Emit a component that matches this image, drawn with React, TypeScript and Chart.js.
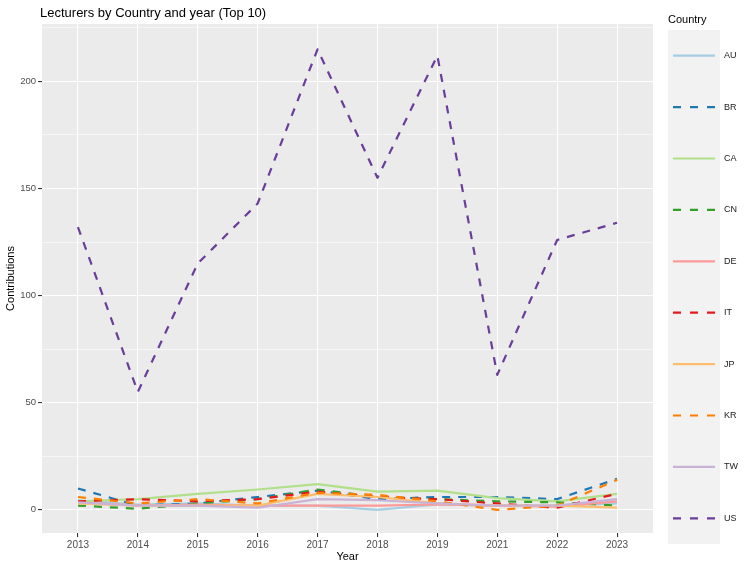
import { useEffect, useRef } from "react";
import { Chart, registerables } from "chart.js";

Chart.register(...registerables);

// ---- data ----
const years = ["2013", "2014", "2015", "2016", "2017", "2018", "2019", "2021", "2022", "2023"];
const countries = ["AU", "BR", "CA", "CN", "DE", "IT", "JP", "KR", "TW", "US"];

const auValues = [4.5, 2.5, 3, 2, 2, 0, 2.5, 2, 2, 3];
const brValues = [10, 2, 3, 6, 9, 5, 6, 6, 5, 14.5];
const caValues = [4, 5, 7.5, 9.5, 12, 8.5, 9, 5.5, 4, 7.5];
const cnValues = [2, 0.5, 3, 5, 9.5, 6, 5, 4, 3.5, 2];
const deValues = [3.5, 2, 2.5, 2, 2, 2, 2.5, 2, 1.5, 4];
const itValues = [4, 5, 4, 5, 8.5, 6, 5, 3, 1, 7.5];
const jpValues = [3, 2, 2, 2, 7.5, 6, 3, 2, 2, 1];
const krValues = [6, 3, 5, 3, 8, 7, 4, 0, 2, 14];
const twValues = [3.5, 2, 2, 1, 5, 4.5, 3, 2, 2, 5];
const usValues = [132, 55, 115, 143, 215, 155, 212, 63, 126, 134];

const seriesValues = [auValues, brValues, caValues, cnValues, deValues, itValues, jpValues, krValues, twValues, usValues];

const yMajorTicks = [0, 50, 100, 150, 200];
const yMinorTicks = [25, 75, 125, 175, 225];

const chartTitle = "Lecturers by Country and year (Top 10)";
const legendTitle = "Country";
const xTitle = "Year";
const yTitle = "Contributions";

// ---- styles ----
const seriesColors = ["#A6CEE3", "#1F78B4", "#B2DF8A", "#33A02C", "#FB9A99", "#E31A1C", "#FDBF6F", "#FF7F00", "#CAB2D6", "#6A3D9A"];
const seriesDashed = [false, true, false, true, false, true, false, true, false, true];

const FONT = "'Liberation Sans', Arial, sans-serif";
const PANEL_BG = "#EBEBEB";
const AXIS_TEXT = "#4D4D4D";

const panelPlugin = {
  id: "panelBackground",
  beforeDraw(chart: any) {
    const { ctx, chartArea } = chart;
    ctx.save();
    ctx.fillStyle = PANEL_BG;
    ctx.fillRect(chartArea.left, chartArea.top, chartArea.right - chartArea.left, chartArea.bottom - chartArea.top);
    ctx.restore();
  },
};

const titleLegendPlugin = {
  id: "titleLegend",
  afterDraw(chart: any) {
    const { ctx } = chart;
    ctx.save();
    ctx.textAlign = "left";
    ctx.textBaseline = "middle";
    ctx.fillStyle = "#000000";
    ctx.font = `13px ${FONT}`;
    ctx.fillText(chartTitle, 40, 13);

    ctx.font = `11px ${FONT}`;
    ctx.fillText(legendTitle, 668, 20);

    const boxX = 668;
    const boxY = 30;
    const boxW = 52;
    const keyH = 51.4;
    ctx.fillStyle = "#F2F2F2";
    ctx.fillRect(boxX, boxY, boxW, keyH * countries.length);

    countries.forEach((name, i) => {
      const cy = boxY + keyH * (i + 0.5);
      ctx.beginPath();
      ctx.strokeStyle = seriesColors[i];
      ctx.lineWidth = 2.2;
      ctx.lineCap = "butt";
      ctx.setLineDash(seriesDashed[i] ? [8, 9] : []);
      ctx.moveTo(boxX + 5, cy);
      ctx.lineTo(boxX + 47, cy);
      ctx.stroke();
      ctx.setLineDash([]);
      ctx.fillStyle = "#1A1A1A";
      ctx.font = `9px ${FONT}`;
      ctx.fillText(name, boxX + boxW + 4, cy);
    });
    ctx.restore();
  },
};

export default function App() {
  const canvasRef = useRef<HTMLCanvasElement | null>(null);

  useEffect(() => {
    if (!canvasRef.current) return;

    const datasets = countries.map((name, i) => ({
      label: name,
      data: seriesValues[i].map((v, j) => ({ x: j, y: v })),
      borderColor: seriesColors[i],
      backgroundColor: seriesColors[i],
      borderWidth: 2.2,
      borderDash: seriesDashed[i] ? [8, 8] : [],
      borderCapStyle: "butt" as const,
      borderJoinStyle: "round" as const,
      pointRadius: 0,
      tension: 0,
      fill: false,
      order: countries.length - i,
    }));

    const isMinor = (v: number) => yMinorTicks.includes(v);

    const chart = new Chart(canvasRef.current, {
      type: "line",
      data: { datasets },
      plugins: [panelPlugin, titleLegendPlugin],
      options: {
        responsive: false,
        animation: false,
        devicePixelRatio: 1,
        layout: { padding: { top: 24, right: 97, left: 0, bottom: 0 } },
        plugins: {
          legend: { display: false },
          tooltip: { enabled: false },
          title: { display: false },
        },
        scales: {
          x: {
            type: "linear",
            min: -0.6,
            max: years.length - 1 + 0.6,
            afterBuildTicks: (scale: any) => {
              scale.ticks = years.map((_, i) => ({ value: i }));
            },
            afterFit: (scale: any) => {
              scale.height = 35;
            },
            ticks: {
              autoSkip: false,
              maxRotation: 0,
              padding: 2,
              color: AXIS_TEXT,
              font: { family: FONT, size: 10 },
              callback: (v: any) => years[Number(v)] ?? "",
            },
            grid: {
              color: "#FFFFFF",
              lineWidth: 1.1,
              drawTicks: true,
              tickLength: 4,
              tickColor: "#333333",
              tickWidth: 1.1,
            },
            border: { display: false },
            title: {
              display: true,
              text: xTitle,
              color: "#000000",
              font: { family: FONT, size: 11 },
              padding: { top: 0, bottom: 4 },
            },
          },
          y: {
            type: "linear",
            min: -10.8,
            max: 226.8,
            afterBuildTicks: (scale: any) => {
              scale.ticks = [...yMajorTicks, ...yMinorTicks].sort((a, b) => a - b).map((v) => ({ value: v }));
            },
            afterFit: (scale: any) => {
              scale.width = 42;
            },
            ticks: {
              autoSkip: false,
              padding: 2,
              color: AXIS_TEXT,
              font: { family: FONT, size: 9.5 },
              callback: (v: any) => (isMinor(Number(v)) ? "" : String(v)),
            },
            grid: {
              color: "#FFFFFF",
              lineWidth: (c: any) => (c.tick && isMinor(c.tick.value) ? 0.55 : 1.1),
              drawTicks: true,
              tickLength: 4,
              tickColor: (c: any) => (c.tick && isMinor(c.tick.value) ? "rgba(0,0,0,0)" : "#333333"),
              tickWidth: 1.1,
            },
            border: { display: false },
            title: {
              display: true,
              text: yTitle,
              color: "#000000",
              font: { family: FONT, size: 11 },
              padding: { top: 4, bottom: 0 },
            },
          },
        },
      },
    } as any);

    return () => chart.destroy();
  }, []);

  return (
    <div style={{ position: "fixed", left: 0, top: 0, width: 750, height: 568, background: "#FFFFFF" }}>
      <canvas ref={canvasRef} width={750} height={568} style={{ display: "block" }} />
    </div>
  );
}
